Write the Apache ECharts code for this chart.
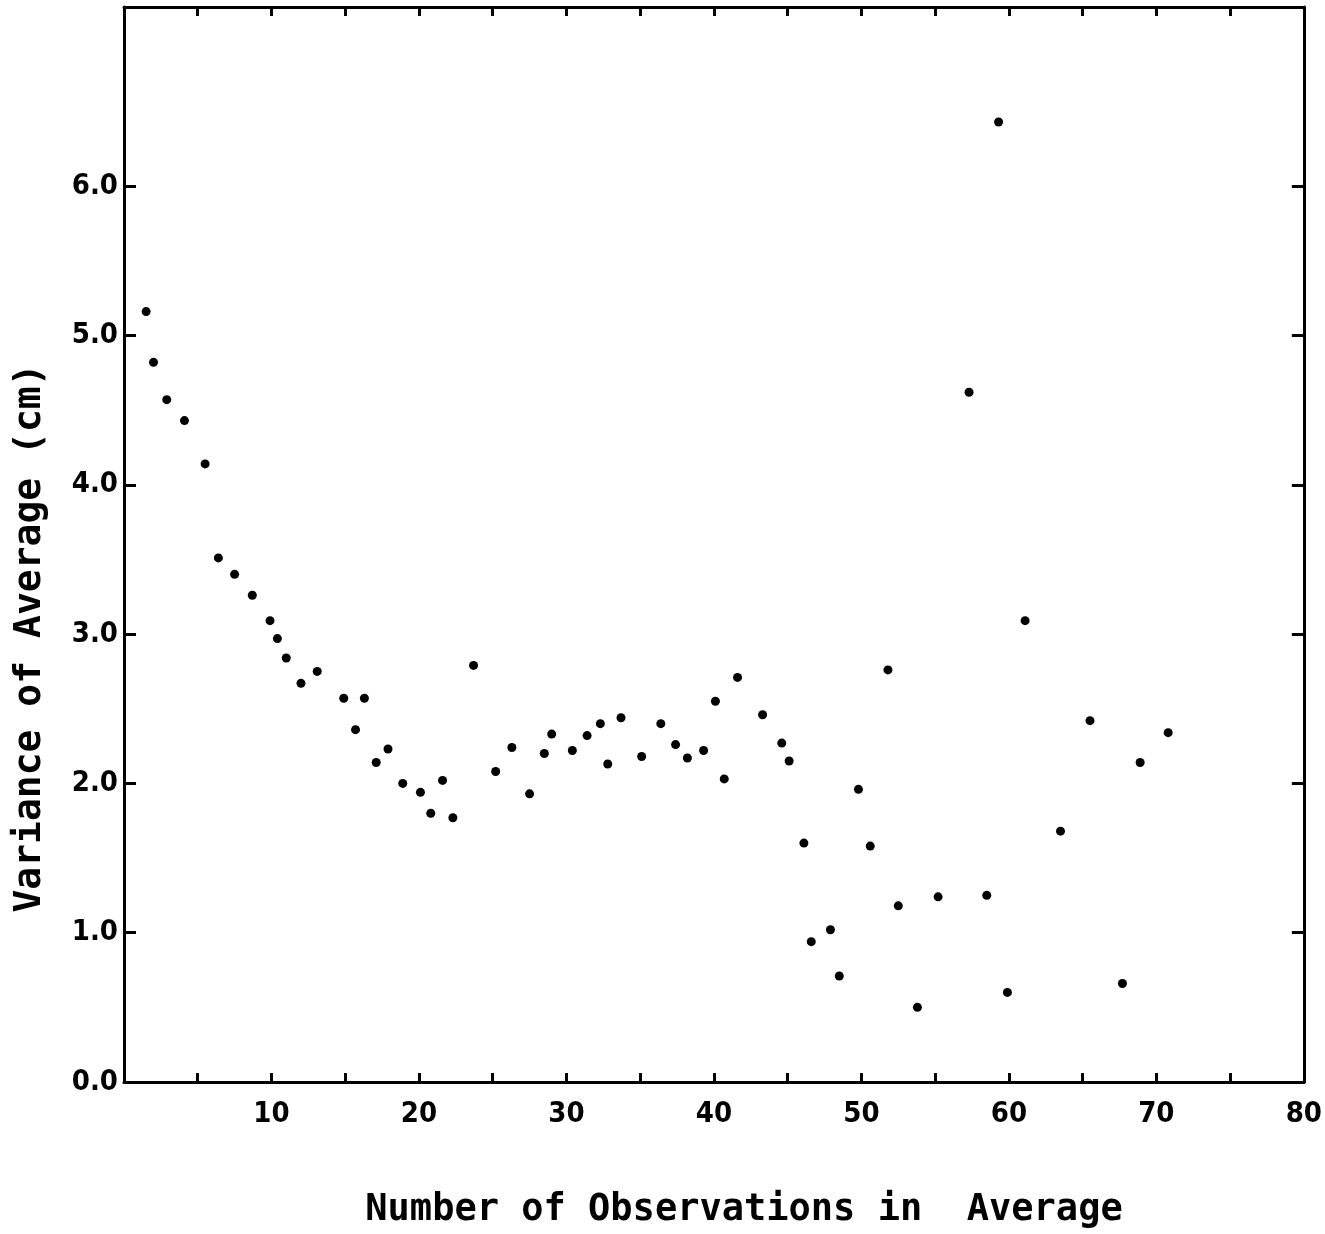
<!DOCTYPE html>
<html>
<head>
<meta charset="utf-8">
<script src="https://cdn.jsdelivr.net/npm/echarts@6/dist/echarts.min.js"></script>
<style>
html, body { margin: 0; padding: 0; background: #fff; }
#main { width: 1325px; height: 1234px; }
</style>
</head>
<body>
<div id="main"></div>
<script>
// number of observations in the average (x) and variance of the average, cm (y)
const obsCount = [
  1.5, 2.0, 2.9, 4.1, 5.5, 6.4, 7.5, 8.7, 9.9, 10.4,
  11.0, 12.0, 13.1, 14.9, 15.7, 16.3, 17.1, 17.9, 18.9, 20.1,
  20.8, 21.6, 22.3, 23.7, 25.2, 26.3, 27.5, 28.5, 29.0, 30.4,
  31.4, 32.3, 32.8, 33.7, 35.1, 36.4, 37.4, 38.2, 39.3, 40.1,
  40.7, 41.6, 43.3, 44.6, 45.1, 46.1, 46.6, 47.9, 48.5, 49.8,
  50.6, 51.8, 52.5, 53.8, 55.2, 57.3, 58.5, 59.3, 59.9, 61.1,
  63.5, 65.5, 67.7, 68.9, 70.8
];
const variance = [
  5.16, 4.82, 4.57, 4.43, 4.14, 3.51, 3.40, 3.26, 3.09, 2.97,
  2.84, 2.67, 2.75, 2.57, 2.36, 2.57, 2.14, 2.23, 2.00, 1.94,
  1.80, 2.02, 1.77, 2.79, 2.08, 2.24, 1.93, 2.20, 2.33, 2.22,
  2.32, 2.40, 2.13, 2.44, 2.18, 2.40, 2.26, 2.17, 2.22, 2.55,
  2.03, 2.71, 2.46, 2.27, 2.15, 1.60, 0.94, 1.02, 0.71, 1.96,
  1.58, 2.76, 1.18, 0.50, 1.24, 4.62, 1.25, 6.43, 0.60, 3.09,
  1.68, 2.42, 0.66, 2.14, 2.34
];

const yTicks = [0, 1, 2, 3, 4, 5, 6];
const xTitle = 'Number of Observations in  Average';
const yTitle = 'Variance of Average (cm)';

const labelFont = {
  color: '#000',
  fontFamily: 'DejaVu Sans Condensed',
  fontWeight: 'bold',
  fontSize: 29
};
const lineStyle = { color: '#000', width: 3 };
const tickStyle = { color: '#000', width: 3 };

let chart = echarts.init(document.getElementById('main'));
chart.setOption({
  backgroundColor: '#fff',
  animation: false,
  grid: { left: 124, right: 20, top: 7, bottom: 152 },
  xAxis: [
    {
      type: 'value',
      min: 0, max: 80, interval: 5,
      axisLine: { onZero: false, lineStyle: lineStyle },
      axisTick: { inside: true, length: 9, lineStyle: tickStyle },
      axisLabel: Object.assign({
        margin: 18,
        formatter: v => (v > 0 && v % 10 === 0) ? String(v) : ''
      }, labelFont),
      splitLine: { show: false }
    },
    {
      type: 'value', position: 'top',
      min: 0, max: 80, interval: 5,
      axisLine: { show: true, onZero: false, lineStyle: lineStyle },
      axisTick: { show: true, inside: true, length: 9, lineStyle: tickStyle },
      axisLabel: { show: false },
      splitLine: { show: false }
    }
  ],
  yAxis: [
    {
      type: 'value',
      min: 0, max: 7.2,
      axisLine: { show: true, onZero: false, lineStyle: lineStyle },
      axisTick: { show: true, inside: true, length: 12, lineStyle: tickStyle, customValues: yTicks },
      axisLabel: Object.assign({
        margin: 6,
        customValues: yTicks,
        formatter: v => v.toFixed(1)
      }, labelFont),
      splitLine: { show: false }
    },
    {
      type: 'value', position: 'right',
      min: 0, max: 7.2,
      axisLine: { show: true, onZero: false, lineStyle: lineStyle },
      axisTick: { show: true, inside: true, length: 12, lineStyle: tickStyle, customValues: yTicks },
      axisLabel: { show: false },
      splitLine: { show: false }
    }
  ],
  graphic: [
    {
      type: 'text', x: 744, y: 1210,
      style: {
        text: xTitle, fill: '#000',
        font: 'bold 37px "DejaVu Sans Mono"',
        textAlign: 'center', textVerticalAlign: 'middle'
      }
    },
    {
      type: 'text', x: 30, y: 638, rotation: Math.PI / 2,
      style: {
        text: yTitle, fill: '#000',
        font: 'bold 38px "DejaVu Sans Mono"',
        textAlign: 'center', textVerticalAlign: 'middle'
      }
    }
  ],
  series: [
    {
      type: 'scatter',
      symbol: 'circle',
      symbolSize: 9,
      itemStyle: { color: '#000', opacity: 1 },
      data: obsCount.map((x, i) => [x, variance[i]])
    },
    {
      // empty series so the top and right frame axes get drawn
      type: 'scatter',
      xAxisIndex: 1,
      yAxisIndex: 1,
      data: []
    }
  ]
});
</script>
</body>
</html>
